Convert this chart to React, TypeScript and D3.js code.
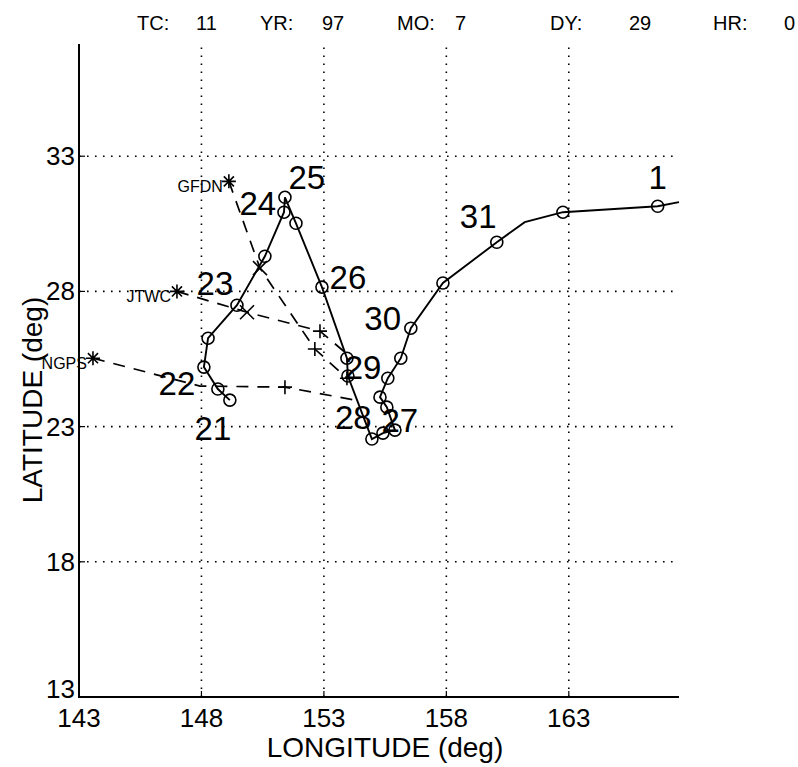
import { useEffect, useRef } from "react";
import * as d3 from "d3";

// Best track: [lon, lat, hasCircle]
const bestTrack: [number, number, boolean][] = [
  [149.16, 23.98, true],
  [148.67, 24.39, true],
  [148.1, 25.2, true],
  [148.27, 26.27, true],
  [149.45, 27.49, true],
  [150.59, 29.3, true],
  [151.37, 30.93, true],
  [151.41, 31.48, true],
  [151.86, 30.52, true],
  [152.92, 28.16, true],
  [153.94, 25.53, true],
  [153.98, 24.87, true],
  [154.96, 22.54, true],
  [155.41, 22.76, true],
  [155.9, 22.87, true],
  [155.57, 23.72, true],
  [155.29, 24.09, true],
  [155.61, 24.79, true],
  [156.14, 25.53, true],
  [156.55, 26.64, true],
  [157.86, 28.31, true],
  [160.06, 29.82, true],
  [161.2, 30.56, false],
  [162.76, 30.93, true],
  [166.63, 31.15, true],
  [167.5, 31.3, false],
];

// Day labels placed as text at [lon, lat]
const dayLabels: [string, number, number][] = [
  ["21", 148.47, 22.94],
  ["22", 147.0, 24.6],
  ["23", 148.55, 28.3],
  ["24", 150.3, 31.26],
  ["25", 152.3, 32.22],
  ["26", 153.98, 28.53],
  ["29", 154.6, 25.2],
  ["28", 154.2, 23.35],
  ["27", 156.1, 23.24],
  ["30", 155.4, 27.0],
  ["31", 159.3, 30.8],
  ["1", 166.63, 32.22],
];

// Forecast tracks: name, start (asterisk), then [lon, lat, marker]
type Fc = { name: string; pts: [number, number, string][] };
const forecasts: Fc[] = [
  {
    name: "GFDN",
    pts: [
      [149.12, 32.07, "*"],
      [150.39, 28.86, "x"],
      [152.63, 25.87, "+"],
      [153.94, 24.79, "+"],
    ],
  },
  {
    name: "JTWC",
    pts: [
      [147.0, 28.0, "*"],
      [149.86, 27.23, "x"],
      [152.84, 26.53, "+"],
      [153.86, 25.75, ""],
    ],
  },
  {
    name: "NGPS",
    pts: [
      [143.57, 25.53, "*"],
      [147.94, 24.5, ""],
      [151.41, 24.46, "+"],
      [154.27, 23.98, ""],
    ],
  },
];

const xTicks = [143, 148, 153, 158, 163];
const yTicks = [13, 18, 23, 28, 33];
const header: [string, string][] = [
  ["TC:", "11"],
  ["YR:", "97"],
  ["MO:", "7"],
  ["DY:", "29"],
  ["HR:", "0"],
];

const W = 798;
const H = 767;
const FONT = "'Liberation Sans', Arial, Helvetica, sans-serif";

export default function App() {
  const ref = useRef<SVGSVGElement | null>(null);

  useEffect(() => {
    const svg = d3.select(ref.current);
    svg.selectAll("*").remove();

    const x = d3.scaleLinear().domain([143, 167.5]).range([79, 679]);
    const y = d3.scaleLinear().domain([13, 37.15]).range([697, 44]);

    svg.append("rect").attr("width", W).attr("height", H).attr("fill", "#fff");

    // header
    const hx = [137, 260, 397, 550, 713];
    const vx = [196, 322, 455, 629, 784];
    header.forEach(([k, v], i) => {
      svg
        .append("text")
        .attr("x", hx[i])
        .attr("y", 30)
        .attr("font-family", FONT)
        .attr("font-size", 20)
        .text(k);
      svg
        .append("text")
        .attr("x", vx[i])
        .attr("y", 30)
        .attr("font-family", FONT)
        .attr("font-size", 20)
        .text(v);
    });

    // grid
    const grid = svg
      .append("g")
      .attr("stroke", "#000")
      .attr("stroke-width", 1.6)
      .attr("stroke-dasharray", "1.6 6.4");
    xTicks.slice(1).forEach((t) => {
      grid
        .append("line")
        .attr("x1", x(t))
        .attr("x2", x(t))
        .attr("y1", y(13))
        .attr("y2", y(37.15));
    });
    yTicks.slice(1).forEach((t) => {
      grid
        .append("line")
        .attr("x1", x(143))
        .attr("x2", x(167.5))
        .attr("y1", y(t))
        .attr("y2", y(t));
    });

    // axes
    svg
      .append("path")
      .attr("d", `M${x(143)},${y(37.15)}V${y(13)}H${x(167.5)}`)
      .attr("fill", "none")
      .attr("stroke", "#000")
      .attr("stroke-width", 2);
    xTicks.forEach((t) => {
      svg
        .append("line")
        .attr("x1", x(t))
        .attr("x2", x(t))
        .attr("y1", y(13))
        .attr("y2", y(13) - 6)
        .attr("stroke", "#000")
        .attr("stroke-width", 1.2);
      svg
        .append("text")
        .attr("x", x(t))
        .attr("y", y(13) + 30)
        .attr("text-anchor", "middle")
        .attr("font-family", FONT)
        .attr("font-size", 26)
        .text(t);
    });
    yTicks.forEach((t) => {
      svg
        .append("line")
        .attr("x1", x(143))
        .attr("x2", x(143) + 6)
        .attr("y1", y(t))
        .attr("y2", y(t))
        .attr("stroke", "#000")
        .attr("stroke-width", 1.2);
      svg
        .append("text")
        .attr("x", x(143) - 4)
        .attr("y", y(t) + (t === 13 ? 1 : 9))
        .attr("text-anchor", "end")
        .attr("font-family", FONT)
        .attr("font-size", 26)
        .text(t);
    });
    svg
      .append("text")
      .attr("x", 385)
      .attr("y", 757)
      .attr("text-anchor", "middle")
      .attr("font-family", FONT)
      .attr("font-size", 28)
      .text("LONGITUDE (deg)");
    svg
      .append("text")
      .attr("transform", "translate(42,400) rotate(-90)")
      .attr("text-anchor", "middle")
      .attr("font-family", FONT)
      .attr("font-size", 28)
      .text("LATITUDE (deg)");

    // forecast tracks
    const line = d3
      .line<[number, number, string]>()
      .x((d) => x(d[0]))
      .y((d) => y(d[1]));
    forecasts.forEach((f) => {
      svg
        .append("path")
        .attr("d", line(f.pts))
        .attr("fill", "none")
        .attr("stroke", "#000")
        .attr("stroke-width", 1.7)
        .attr("stroke-dasharray", "12 9");
      f.pts.forEach(([lo, la, m]) => {
        const px = x(lo);
        const py = y(la);
        const s = 7;
        let d = "";
        if (m === "x") d = `M${px - s},${py - s}L${px + s},${py + s}M${px - s},${py + s}L${px + s},${py - s}`;
        else if (m === "+") d = `M${px - s},${py}H${px + s}M${px},${py - s}V${py + s}`;
        else if (m === "*") {
          const r = 7;
          d = `M${px - r},${py}H${px + r}M${px},${py - r}V${py + r}`;
          const q = r * 0.72;
          d += `M${px - q},${py - q}L${px + q},${py + q}M${px - q},${py + q}L${px + q},${py - q}`;
        }
        if (d)
          svg
            .append("path")
            .attr("d", d)
            .attr("stroke", "#000")
            .attr("stroke-width", 1.6)
            .attr("fill", "none");
      });
      const [slo, sla] = f.pts[0];
      svg
        .append("text")
        .attr("x", x(slo) - 6)
        .attr("y", y(sla) + 11)
        .attr("text-anchor", "end")
        .attr("font-family", FONT)
        .attr("font-size", 16)
        .text(f.name);
    });

    // best track
    const bl = d3
      .line<[number, number, boolean]>()
      .x((d) => x(d[0]))
      .y((d) => y(d[1]));
    svg
      .append("path")
      .attr("d", bl(bestTrack))
      .attr("fill", "none")
      .attr("stroke", "#000")
      .attr("stroke-width", 1.9);
    svg
      .append("g")
      .selectAll("circle")
      .data(bestTrack.filter((d) => d[2]))
      .join("circle")
      .attr("cx", (d) => x(d[0]))
      .attr("cy", (d) => y(d[1]))
      .attr("r", 6)
      .attr("fill", "none")
      .attr("stroke", "#000")
      .attr("stroke-width", 1.6);

    svg
      .append("g")
      .selectAll("text")
      .data(dayLabels)
      .join("text")
      .attr("x", (d) => x(d[1]))
      .attr("y", (d) => y(d[2]) + 12)
      .attr("text-anchor", "middle")
      .attr("font-family", FONT)
      .attr("font-size", 33)
      .text((d) => d[0]);
  }, []);

  return (
    <svg
      ref={ref}
      width={W}
      height={H}
      style={{ position: "absolute", left: 0, top: 0 }}
    />
  );
}
